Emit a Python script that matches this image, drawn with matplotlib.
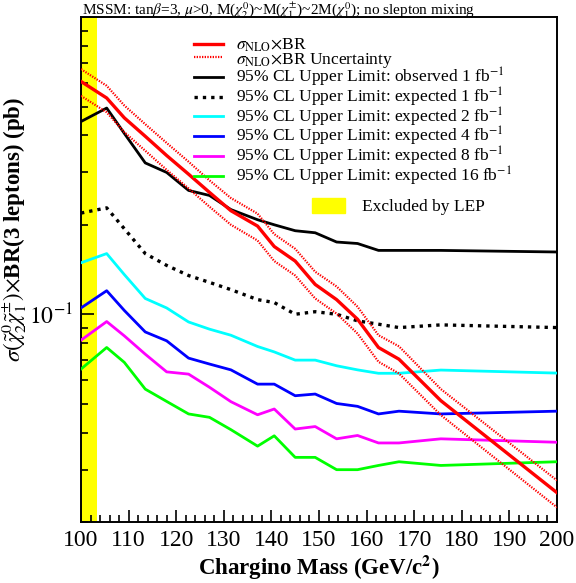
import numpy as np
import matplotlib
matplotlib.use("Agg")
import matplotlib.pyplot as plt
from matplotlib.ticker import FixedLocator, NullFormatter, MultipleLocator

plt.rcParams['font.family'] = ['Liberation Serif', 'DejaVu Serif']
plt.rcParams['mathtext.fontset'] = 'stix'

# chargino masses (GeV/c^2)
mass = [100, 105.4, 109.1, 113.5, 118.0, 122.6, 127.0, 131.5, 137.1, 140.6,
        145.0, 149.2, 153.7, 158.1, 162.5, 166.8, 175.6, 200]

# sigma_NLO x BR (pb) and its uncertainty band
xsec = [0.607, 0.534, 0.458, 0.397, 0.342, 0.296, 0.257, 0.223, 0.198, 0.169,
        0.151, 0.126, 0.112, 0.0962, 0.0773, 0.0706, 0.0512, 0.0251]
xsec_up = [0.668, 0.587, 0.504, 0.436, 0.377, 0.326, 0.282, 0.246, 0.218, 0.186,
           0.166, 0.139, 0.124, 0.106, 0.085, 0.078, 0.056, 0.0276]
xsec_dn = [0.543, 0.478, 0.410, 0.355, 0.306, 0.265, 0.230, 0.200, 0.177, 0.151,
           0.135, 0.113, 0.1005, 0.0861, 0.0692, 0.0632, 0.0458, 0.0224]

# 95% CL upper limits (pb)
obs_1fb = [0.445, 0.494, 0.406, 0.323, 0.300, 0.261, 0.251, 0.225, 0.208, 0.200,
           0.191, 0.188, 0.175, 0.173, 0.164, 0.164, 0.164, 0.162]
exp_1fb = [0.219, 0.228, 0.194, 0.160, 0.146, 0.135, 0.128, 0.121, 0.112, 0.1095,
           0.100, 0.102, 0.100, 0.095, 0.0926, 0.0902, 0.0921, 0.0902]
exp_2fb = [0.149, 0.160, 0.136, 0.113, 0.105, 0.0942, 0.0891, 0.0850, 0.0779, 0.0747,
           0.0701, 0.0701, 0.0671, 0.0650, 0.0633, 0.0633, 0.0649, 0.0634]
exp_4fb = [0.105, 0.120, 0.103, 0.0872, 0.0814, 0.0712, 0.0680, 0.0650, 0.0582, 0.0582,
           0.0532, 0.0539, 0.0501, 0.0490, 0.0462, 0.0472, 0.0462, 0.0472]
exp_8fb = [0.0818, 0.0945, 0.0846, 0.0734, 0.0640, 0.0629, 0.0568, 0.0508, 0.0459, 0.0480,
           0.0411, 0.0419, 0.0381, 0.0391, 0.0369, 0.0369, 0.0381, 0.0371]
exp_16fb = [0.0654, 0.0773, 0.0689, 0.0560, 0.0509, 0.0462, 0.0450, 0.0409, 0.0360, 0.0390,
            0.0330, 0.0330, 0.0300, 0.0300, 0.0310, 0.0319, 0.0310, 0.0319]

lep_limit = 103.3

fig = plt.figure(figsize=(5.76, 5.83), dpi=100)
ax = fig.add_axes([0.1406, 0.1046, 0.8264, 0.8662])

ax.axvspan(100, lep_limit, color='#ffff00', lw=0, zorder=0)

l_x, = ax.plot(mass, xsec, color='#ff0000', lw=2.4, zorder=5)
l_u, = ax.plot(mass, xsec_up, color='#ff0000', lw=1.6, ls=(0, (0.6, 0.6)), zorder=4)
ax.plot(mass, xsec_dn, color='#ff0000', lw=1.6, ls=(0, (0.6, 0.6)), zorder=4)
l_o, = ax.plot(mass, obs_1fb, color='black', lw=2.0, zorder=3)
l_e1, = ax.plot(mass, exp_1fb, color='black', lw=2.4, ls=(0, (1, 1.5)), zorder=3)
l_e2, = ax.plot(mass, exp_2fb, color='#00ffff', lw=2.0, zorder=3)
l_e4, = ax.plot(mass, exp_4fb, color='#0000ff', lw=2.0, zorder=3)
l_e8, = ax.plot(mass, exp_8fb, color='#ff00ff', lw=2.0, zorder=3)
l_e16, = ax.plot(mass, exp_16fb, color='#00ff00', lw=2.0, zorder=3)

ax.set_yscale('log')
ax.set_xlim(100, 200)
ax.set_ylim(0.02, 1.0)

ax.xaxis.set_major_locator(MultipleLocator(10))
ax.xaxis.set_minor_locator(MultipleLocator(2))
ax.yaxis.set_major_locator(FixedLocator([0.1]))
ax.yaxis.set_major_formatter(plt.FuncFormatter(lambda v, p: r'$10^{-1}$'))
ax.yaxis.set_minor_locator(FixedLocator([0.02, 0.03, 0.04, 0.05, 0.06, 0.07, 0.08, 0.09,
                                         0.2, 0.3, 0.4, 0.5, 0.6, 0.7, 0.8, 0.9]))
ax.yaxis.set_minor_formatter(NullFormatter())
ax.tick_params(which='both', direction='in', top=False, right=False, width=1.2)
ax.tick_params(which='major', length=9, labelsize=17, pad=6)
ax.tick_params(which='minor', length=5)
for s in ax.spines.values():
    s.set_linewidth(1.4)

ax.set_xlabel(r'Chargino Mass (GeV/c$^{\mathbf{2}}$)', fontsize=16.5, fontweight='bold', labelpad=2)
ax.set_ylabel(r'$\sigma(\tilde{\chi}^{0}_{2}\tilde{\chi}^{\pm}_{1})$$\times$BR(3 leptons) (pb)',
              fontsize=16.5, fontweight='bold', y=0.58, labelpad=0)

fig.text(82 / 576, 1 - 15 / 583,
         r'MSSM: tan$\beta$=3, $\mu$>0, M($\chi^{0}_{2}$)~M($\chi^{\pm}_{1}$)~2M($\chi^{0}_{1}$); no slepton mixing',
         fontsize=11, ha='left', va='baseline')

handles = [l_x, l_u, l_o, l_e1, l_e2, l_e4, l_e8, l_e16]
labels = [r'$\sigma_{\mathrm{NLO}}$$\times$BR',
          r'$\sigma_{\mathrm{NLO}}$$\times$BR Uncertainty',
          r'95% CL Upper Limit: observed 1 fb$^{-1}$',
          r'95% CL Upper Limit: expected 1 fb$^{-1}$',
          r'95% CL Upper Limit: expected 2 fb$^{-1}$',
          r'95% CL Upper Limit: expected 4 fb$^{-1}$',
          r'95% CL Upper Limit: expected 8 fb$^{-1}$',
          r'95% CL Upper Limit: expected 16 fb$^{-1}$']
leg = ax.legend(handles, labels, loc='upper left', bbox_to_anchor=(0.222, 0.975),
                frameon=False, fontsize=12.5, handlelength=1.7, handletextpad=0.75,
                labelspacing=-0.2, borderaxespad=0)
ax.add_artist(leg)

lep_patch = plt.Rectangle((0, 0), 1, 1, color='#ffff00')
ax.legend([lep_patch], ['Excluded by LEP'], loc='upper left', bbox_to_anchor=(0.47, 0.655),
          frameon=False, fontsize=12.5, handlelength=1.9, handleheight=0.9, handletextpad=1.0,
          borderaxespad=0)

fig.savefig('out.png', dpi=100)
